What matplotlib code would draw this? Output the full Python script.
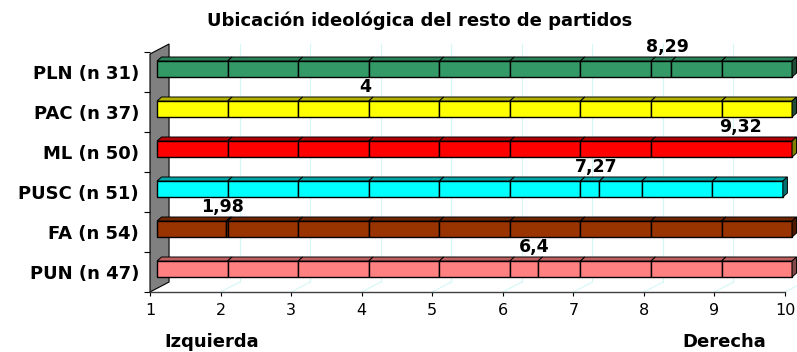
import matplotlib
matplotlib.use('Agg')
import matplotlib.pyplot as plt
from matplotlib.patches import Polygon
import numpy as np

# datos
partidos = ['PLN (n 31)', 'PAC (n 37)', 'ML (n 50)', 'PUSC (n 51)', 'FA (n 54)', 'PUN (n 47)']
valores = [8.29, 4, 9.32, 7.27, 1.98, 6.4]
etiquetas = ['8,29', '4', '9,32', '7,27', '1,98', '6,4']

# tramos apilados de cada barra (desde 1)
tramos_pln = [1, 1, 1, 1, 1, 1, 1, 0.29, 0.71, 1]
tramos_pac = [1, 1, 1, 1, 1, 1, 1, 1, 1]
tramos_ml = [1, 1, 1, 1, 1, 1, 1, 2]
tramos_pusc = [1, 1, 1, 1, 1, 1, 0.27, 0.6, 1, 1]
tramos_fa = [0.98, 0.02, 1, 1, 1, 1, 1, 1, 1, 1]
tramos_pun = [1, 1, 1, 1, 1, 0.4, 0.6, 1, 1, 1]
tramos = [tramos_pln, tramos_pac, tramos_ml, tramos_pusc, tramos_fa, tramos_pun]

ticks_x = [1, 2, 3, 4, 5, 6, 7, 8, 9, 10]

color_frente = ['#339966', '#FFFF00', '#FF0000', '#00FFFF', '#993300', '#FF8080']
color_arriba = ['#2b8058', '#b3b300', '#b30000', '#00a6a6', '#6e2500', '#bf6060']
color_lado = ['#1f4d36', '#1f4d36', '#808000', '#007070', '#4d1a00', '#804848']

fig = plt.figure(figsize=(7.97, 3.52), dpi=100)
ax = fig.add_axes([150 / 797, 60 / 352, 635 / 797, 240 / 352])
ax.set_xlim(1, 10)
ax.set_ylim(0, 6)

# profundidad del efecto 3D (unidades de datos)
prof_x, prof_y = 0.27, 0.25
off_x, off_y = 0.1, 0.075
top_x, top_y = 0.064, 0.1
media_alto = 0.2

# pared gris
pared = Polygon([(1, 0), (1, 5.95), (1 + prof_x, 5.95 + prof_y), (1 + prof_x, prof_y)],
                closed=True, facecolor='#808080', edgecolor='black', lw=0.8,
                clip_on=False, zorder=1)
ax.add_patch(pared)

# lineas de division al fondo
for v in ticks_x[1:]:
    ax.plot([v + prof_x, v + prof_x], [prof_y, 5.95 + prof_y], color='#d5f7f7', lw=0.8,
            clip_on=False, zorder=0.5)
    ax.plot([v, v + prof_x], [0, prof_y], color='#d5f7f7', lw=0.8, clip_on=False, zorder=0.5)

for i, nombre in enumerate(partidos):
    yc = 5.5 - i + off_y
    y0, y1 = yc - media_alto, yc + media_alto
    inicios = 1 + np.concatenate([[0], np.cumsum(tramos[i])[:-1]])
    for ini, largo in zip(inicios, tramos[i]):
        x0 = ini + off_x
        x1 = ini + largo + off_x
        frente = Polygon([(x0, y0), (x1, y0), (x1, y1), (x0, y1)], closed=True,
                         facecolor=color_frente[i], edgecolor='black', lw=1.0,
                         clip_on=False, zorder=3)
        arriba = Polygon([(x0, y1), (x1, y1), (x1 + top_x, y1 + top_y), (x0 + top_x, y1 + top_y)],
                         closed=True, facecolor=color_arriba[i], edgecolor='black', lw=0.7,
                         clip_on=False, zorder=3)
        ax.add_patch(frente)
        ax.add_patch(arriba)
    fin = 1 + sum(tramos[i]) + off_x
    lado = Polygon([(fin, y0), (fin + top_x, y0 + top_y), (fin + top_x, y1 + top_y), (fin, y1)],
                   closed=True, facecolor=color_lado[i], edgecolor='black', lw=0.7,
                   clip_on=False, zorder=3)
    ax.add_patch(lado)
    ax.text(valores[i] + 0.05, 5.5 - i + 0.62, etiquetas[i], ha='center', va='center',
            fontsize=12.5, fontweight='bold', zorder=4)

# ejes
for s in ['top', 'right']:
    ax.spines[s].set_visible(False)
ax.spines['left'].set_visible(False)
ax.spines['bottom'].set_color('#404040')
ax.spines['bottom'].set_linewidth(1.0)
ax.set_xticks(ticks_x)
ax.tick_params(axis='x', direction='out', length=3, width=0.8, pad=5, labelsize=11.5)
ax.set_yticks(range(7))
ax.set_yticks([5.5 - i for i in range(len(partidos))], minor=True)
ax.set_yticklabels([])
ax.set_yticklabels(partidos, minor=True, fontsize=13, fontweight='bold')
ax.tick_params(axis='y', which='major', direction='out', length=4, width=0.8)
ax.tick_params(axis='y', which='minor', length=0, pad=8)
ax.patch.set_alpha(0)

fig.text(420 / 797, 1 - 21 / 352, 'Ubicación ideológica del resto de partidos',
         ha='center', va='center', fontsize=13, fontweight='bold')
fig.text(212 / 797, 1 - 342 / 352, 'Izquierda', ha='center', va='center',
         fontsize=13, fontweight='bold')
fig.text(724 / 797, 1 - 342 / 352, 'Derecha', ha='center', va='center',
         fontsize=13, fontweight='bold')

plt.savefig('out.png', dpi=100)
